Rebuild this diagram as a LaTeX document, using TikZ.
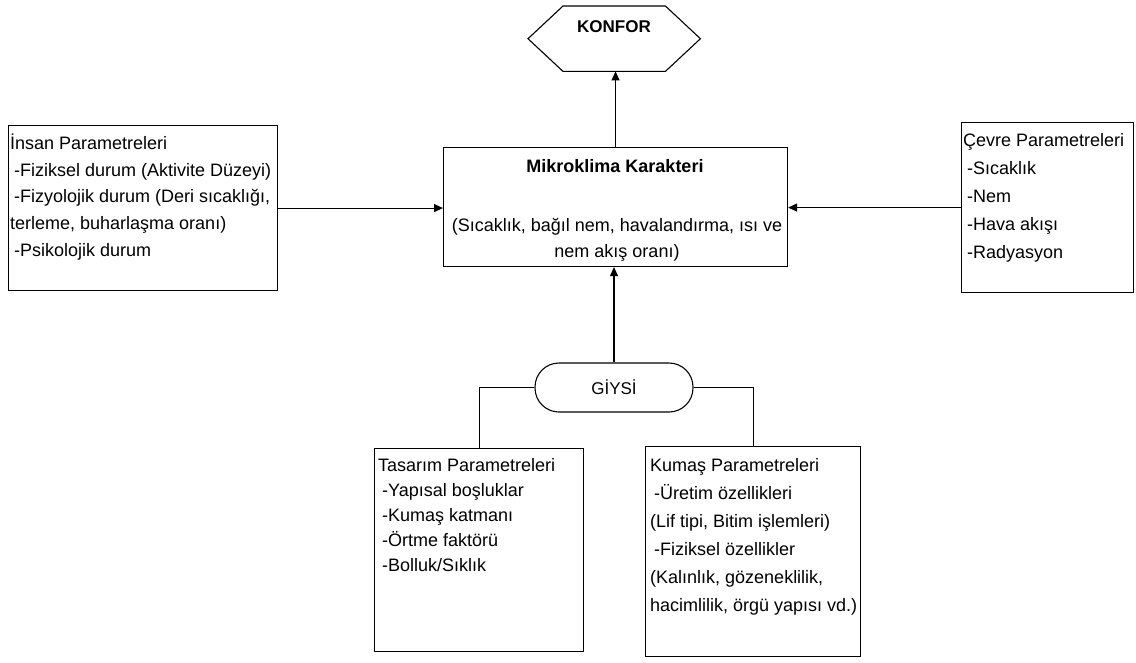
\documentclass[tikz,border=0pt]{standalone}
\usepackage{fontspec}
\setmainfont{Liberation Sans}
\usetikzlibrary{arrows.meta,calc}
\begin{document}
\begin{tikzpicture}[x=1pt,y=-1pt,
  box/.style={draw, line width=1.1pt, inner sep=0, anchor=north west},
  txt/.style={anchor=north west, inner sep=0, align=left, font=\fontsize{18}{#1}\selectfont},
  ctxt/.style={anchor=north, inner sep=0, align=center, font=\fontsize{18}{#1}\selectfont},
  btxt/.style={anchor=base, inner sep=0, font=\fontsize{#1}{20}\selectfont\bfseries},
  arr/.style={line width=1.1pt, -{Triangle[length=9pt,width=8pt]}},
  ln/.style={line width=1.1pt}]
\useasboundingbox (0,0) rectangle (1136,662);
\fill[white] (0,0) rectangle (1136,662);

% KONFOR hexagon
\node[inner sep=0, minimum width=172, minimum height=65, anchor=north west] (konfor) at (528,6) {};
\draw[ln] (konfor.west) -- ([xshift=35pt]konfor.north west) -- ([xshift=-35pt]konfor.north east)
  -- (konfor.east) -- ([xshift=-35pt]konfor.south east) -- ([xshift=35pt]konfor.south west) -- cycle;
\node[btxt=17] (konfortxt) at (614,32) {KONFOR};

% Mikroklima
\node[box, minimum width=344, minimum height=119] (mikro) at (443,147) {};
\node[btxt=18] (mikrotitle) at (615,172) {Mikroklima Karakteri};
\node[ctxt=26] (mikrotxt) at (617,212.8) {\strut(Sıcaklık, bağıl nem, havalandırma, ısı ve\\nem akış oranı)};

% Insan
\node[box, minimum width=269, minimum height=165] (insan) at (8,125) {};
\node[txt=26.7] (insantxt) at (10,130.6) {\strut İnsan Parametreleri\\
\hspace*{4pt}-Fiziksel durum (Aktivite Düzeyi)\\
\hspace*{4pt}-Fizyolojik durum (Deri sıcaklığı,\\
terleme, buharlaşma oranı)\\
\hspace*{4pt}-Psikolojik durum};

% Cevre
\node[box, minimum width=172, minimum height=170] (cevre) at (961,122) {};
\node[txt=28] (cevretxt) at (963,126.4) {\strut Çevre Parametreleri\\
\hspace*{4pt}-Sıcaklık\\
\hspace*{4pt}-Nem\\
\hspace*{4pt}-Hava akışı\\
\hspace*{4pt}-Radyasyon};

% GIYSI
\node[draw, line width=1.1pt, rounded corners=24pt, minimum width=158, minimum height=49, inner sep=0,
  font=\fontsize{17}{20}\selectfont] (giysi) at (614,387.5) {GİYSİ};

% Tasarim
\node[box, minimum width=209, minimum height=203] (tasarim) at (374,448) {};
\node[txt=25] (tasarimtxt) at (378,454.2) {\strut Tasarım Parametreleri\\
\hspace*{4pt}-Yapısal boşluklar\\
\hspace*{4pt}-Kumaş katmanı\\
\hspace*{4pt}-Örtme faktörü\\
\hspace*{4pt}-Bolluk/Sıklık};

% Kumas
\node[box, minimum width=215, minimum height=210] (kumas) at (645,446) {};
\node[txt=28] (kumastxt) at (650,452.1) {\strut Kumaş Parametreleri\\
\hspace*{4pt}-Üretim özellikleri\\
(Lif tipi, Bitim işlemleri)\\
\hspace*{4pt}-Fiziksel özellikler\\
(Kalınlık, gözeneklilik,\\
hacimlilik, örgü yapısı vd.)};

% connectors
\draw[arr] (mikro.north) -- (mikro.north |- konfor.south);
\draw[arr] (insan.east) -- (insan.east -| mikro.west);
\draw[arr] (cevre.west) -- (cevre.west -| mikro.east);
\draw[arr] (giysi.north) -- (giysi.north |- mikro.south);
\draw[ln] (giysi.west) -| (tasarim.north);
\draw[ln] (giysi.east) -| (kumas.north);
\end{tikzpicture}
\end{document}
